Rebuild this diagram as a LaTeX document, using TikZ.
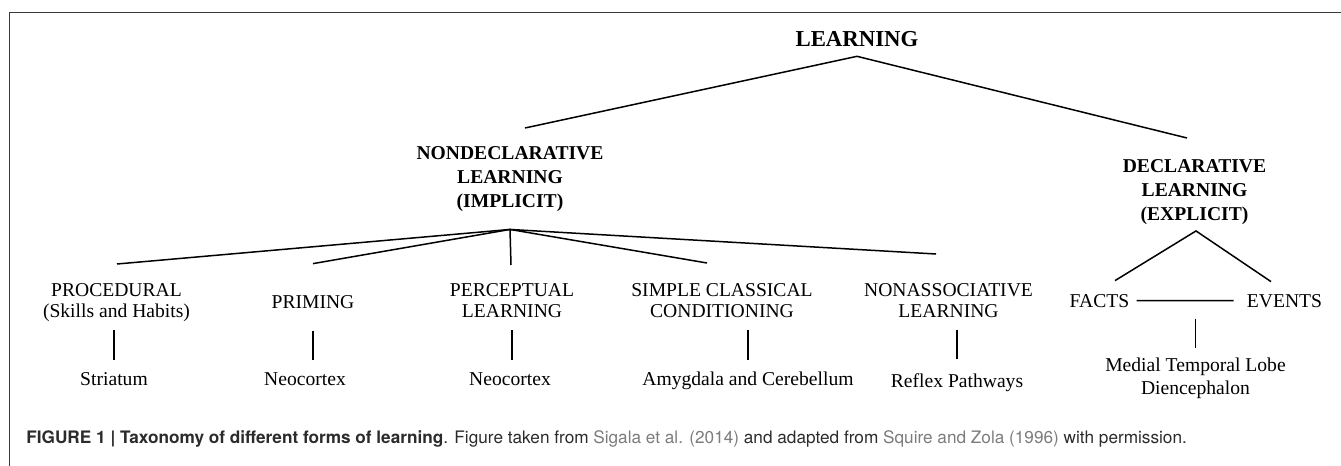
\documentclass[tikz,border=0pt]{standalone}
\usepackage{fontspec}
\setmainfont{Liberation Serif}
\newfontfamily\capfont{TeX Gyre Heros}
\usetikzlibrary{calc}
\definecolor{framegray}{HTML}{3A3A3A}
\definecolor{captext}{HTML}{2B2B2B}
\definecolor{citegray}{HTML}{7C7C7C}
\tikzset{
    rootlbl/.style={
        font=\fontsize{11.4}{13}\selectfont\bfseries,
        inner sep=0pt
    },
    branchlbl/.style={
        font=\fontsize{9.8}{12}\selectfont\bfseries,
        align=center,
        inner sep=0pt
    },
    formlbl/.style={
        font=\fontsize{9.8}{10.5}\selectfont,
        align=center,
        inner sep=0pt
    },
    arealbl/.style={
        font=\fontsize{9.8}{11.5}\selectfont,
        align=center,
        inner sep=0pt
    },
    treeline/.style={
        line width=0.75pt,
        black
    }
}

\begin{document}
\begin{tikzpicture}[x=0.5pt, y=-0.5pt]
    \useasboundingbox (0,0) rectangle (1341,466);
    % Frame
    \draw[framegray, line width=0.8pt] (9.3,466) -- (9.3,12.3) -- (1341,12.3);

    % Learning and its two branches
    \node[rootlbl, anchor=base] (learn) at (857,46.7) {LEARNING};
    \node[branchlbl, anchor=north] (nondecl) at (510,146) {NONDECLARATIVE\\LEARNING\\(IMPLICIT)};
    \node[branchlbl, anchor=north] (decl) at (1194.5,159) {DECLARATIVE\\LEARNING\\(EXPLICIT)};

    % Forms
    \node[formlbl, anchor=north] (proc) at (116.5,283) {PROCEDURAL\\(Skills and Habits)};
    \node[formlbl, anchor=base] (prim) at (313,308) {PRIMING};
    \node[formlbl, anchor=north] (perc) at (512,283) {PERCEPTUAL\\LEARNING};
    \node[formlbl, anchor=north] (simp) at (722,283) {SIMPLE CLASSICAL\\CONDITIONING};
    \node[formlbl, anchor=north] (nonas) at (948.5,283) {NONASSOCIATIVE\\LEARNING};
    \node[formlbl, anchor=base] (facts) at (1099.5,307) {FACTS};
    \node[formlbl, anchor=base] (events) at (1284.5,307) {EVENTS};

    % Brain areas
    \node[arealbl, anchor=base] (stri) at (114,385) {Striatum};
    \node[arealbl, anchor=base] (neoa) at (305,385) {Neocortex};
    \node[arealbl, anchor=base] (neob) at (510,385) {Neocortex};
    \node[arealbl, anchor=base] (amyg) at (748,385) {Amygdala and Cerebellum};
    \node[arealbl, anchor=base] (refl) at (957,387) {Reflex Pathways};
    \node[arealbl, anchor=north] (mtl) at (1195.5,357) {Medial Temporal Lobe\\Diencephalon};

    % Edges
    \coordinate (root) at ($(learn.south)+(0,9)$);
    \draw[treeline] ($(nondecl.north)+(15,-18)$) -- (root) -- ($(decl.north)+(-7.5,-21)$);

    \coordinate (ndfork) at ($(nondecl.south)+(0,17.5)$);
    \draw[treeline] (ndfork) -- ($(proc.north)+(0.5,-19)$);
    \draw[treeline] (ndfork) -- ($(prim.north)+(0,-31)$);
    \draw[treeline] (ndfork) -- ($(perc.north)+(-1,-18)$);
    \draw[treeline] (ndfork) -- ($(simp.north)+(-15,-20)$);
    \draw[treeline] (ndfork) -- ($(nonas.north)+(-12.5,-29)$);

    \coordinate (dfork) at ($(decl.south)+(1.5,6)$);
    \draw[treeline] ($(facts.north)+(15.5,-13)$) -- (dfork) -- ($(events.north)+(-13.5,-12)$);
    \draw[treeline] ($(facts.east)+(7,0)$) -- ($(events.west)+(-13,0)$);

    \draw[treeline] ($(stri.north |- proc.south)+(0,8.5)$) -- ($(stri.north)+(0,-11.5)$);
    \draw[treeline] ($(prim.south)+(0,22)$) -- ($(prim.south |- neoa.north)+(0,-12)$);
    \draw[treeline] ($(perc.south)+(0,12.5)$) -- ($(perc.south |- neob.north)+(0,-12)$);
    \draw[treeline] ($(amyg.north |- simp.south)+(0,12.5)$) -- ($(amyg.north)+(0,-11.5)$);
    \draw[treeline] ($(refl.north |- nonas.south)+(0,12.5)$) -- ($(refl.north)+(0,-13.5)$);
    \draw[treeline] ($(mtl.north |- facts.south)+(0,11)$) -- ($(mtl.north)+(0,-9)$);

    % Caption
    \node[anchor=base west, inner sep=0pt, font=\capfont\fontsize{8.6}{10}\selectfont, text=captext] (caption) at (26,443)
        {\textbf{FIGURE 1 | Taxonomy of different forms of learning}. Figure taken from \textcolor{citegray}{Sigala et al. (2014)} and adapted from \textcolor{citegray}{Squire and Zola (1996)} with permission.};
\end{tikzpicture}
\end{document}
